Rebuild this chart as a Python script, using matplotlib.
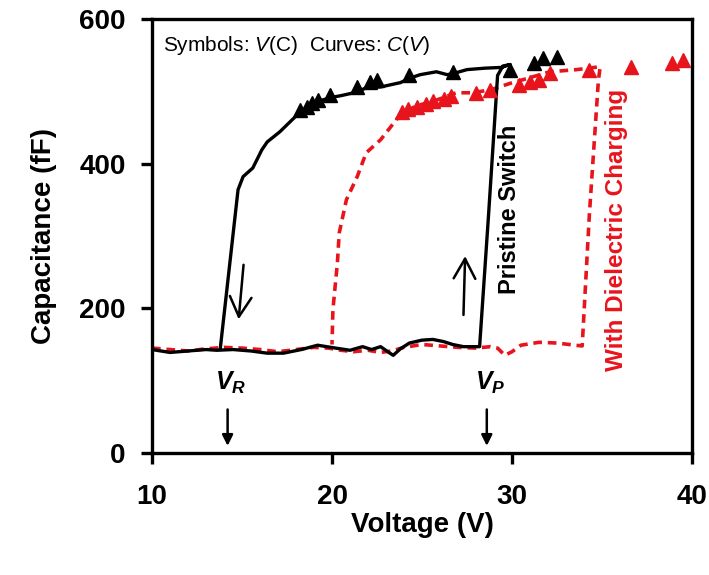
import matplotlib
matplotlib.use("Agg")
import matplotlib.pyplot as plt

plt.rcParams['font.family'] = 'Liberation Sans'
plt.rcParams['mathtext.fontset'] = 'custom'
plt.rcParams['mathtext.rm'] = 'Liberation Sans'
plt.rcParams['mathtext.it'] = 'Liberation Sans:italic'
plt.rcParams['mathtext.bf'] = 'Liberation Sans:bold'
plt.rcParams['mathtext.bfit'] = 'Liberation Sans:italic:bold'

# pristine switch, C(V) sweep (black curve)
pr_v = [10.0, 11.0, 12.0, 13.0, 13.6, 14.5, 15.5, 16.4, 17.3, 18.3, 19.2, 20.2, 21.0,
        21.7, 22.2, 22.7, 23.1, 23.4, 23.8, 24.3, 25.0, 25.6, 26.2, 26.7, 27.3, 28.2,
        28.7, 29.2, 29.5, 29.9,
        29.4, 28.5, 27.5, 26.8, 26.4, 25.8, 24.9, 24.3, 23.8, 22.7, 21.9, 21.4, 20.5,
        20.05, 18.9, 18.05, 17.1, 16.4, 16.1, 15.6, 15.06, 14.78, 13.8]
pr_c = [143, 139, 141, 143, 142, 143, 141, 138, 138, 143, 149, 145, 142,
        147, 143, 147, 140, 135, 144, 152, 156, 157, 154, 150, 147, 147,
        330, 522, 535, 537,
        533, 532, 530, 525, 523, 527, 523, 518, 512, 506, 505, 499, 494,
        492, 484, 467, 444, 430, 419, 394, 382, 364, 146]

# with dielectric charging, C(V) sweep (red dashed curve)
dc_v = [10.0, 11.0, 12.0, 13.0, 14.0, 15.0, 16.0, 17.0, 18.0, 19.0, 19.8, 20.5, 21.2,
        22.0, 22.7, 23.3, 24.0, 25.0, 26.0, 27.0, 28.0, 28.8, 29.2, 29.6, 30.0, 30.5,
        31.5, 32.5, 33.5, 33.9,
        34.3, 34.8, 34.9,
        33.6, 32.1, 30.6, 29.9, 28.8, 27.8, 26.9, 25.6, 24.7, 23.8, 22.7, 21.9, 21.4,
        20.8, 20.4, 20.3, 20.05, 20.0]
dc_c = [145, 143, 141, 144, 146, 145, 143, 140, 143, 146, 145, 142, 140,
        142, 139, 141, 146, 150, 148, 146, 145, 147, 145, 135, 140, 149,
        153, 152, 149, 148,
        330, 515, 534,
        530, 527, 516, 511, 502, 498, 498, 486, 480, 468, 433, 415, 382,
        350, 304, 263, 198, 150]

# V(C) symbols
pr_sym_v = [18.2, 18.6, 18.9, 19.2, 19.9, 21.4, 22.1, 22.5, 24.3, 26.7, 29.9, 31.2, 31.7, 32.5]
pr_sym_c = [474, 478, 484, 488, 495, 506, 513, 516, 522, 527, 530, 539, 546, 548]
dc_sym_v = [23.9, 24.2, 24.7, 25.2, 25.6, 26.2, 26.6, 28.0, 28.8, 30.4, 31.0, 31.5, 32.1,
            34.3, 36.6, 38.9, 39.5]
dc_sym_c = [471, 475, 478, 482, 486, 490, 493, 498, 502, 509, 513, 516, 525,
            530, 534, 539, 543]

v_r = 14.2
v_p = 28.6

red = '#e8141c'

fig = plt.figure(figsize=(7.09, 5.75), dpi=100)
ax = fig.add_axes([0.2144, 0.2122, 0.7616, 0.7548])

ax.plot(dc_v, dc_c, color=red, lw=2.6, dashes=(2.4, 1.6), zorder=2)
ax.plot(pr_v, pr_c, color='black', lw=2.4, zorder=3)
ax.plot(dc_sym_v, dc_sym_c, '^', color=red, ms=9.5, mec=red, zorder=4, clip_on=False)
ax.plot(pr_sym_v, pr_sym_c, '^', color='black', ms=9.5, zorder=5)

ax.set_xlim(10, 40)
ax.set_ylim(0, 600)
ax.set_xticks([10, 20, 30, 40])
ax.set_yticks([0, 200, 400, 600])
for s in ax.spines.values():
    s.set_linewidth(2.4)
ax.tick_params(direction='out', length=8, width=2.4, labelsize=20, pad=11)
for lab in ax.get_xticklabels() + ax.get_yticklabels():
    lab.set_fontweight('bold')
ax.tick_params(axis='x', pad=14)

ax.set_xlabel('Voltage (V)', fontsize=20, fontweight='bold', labelpad=2)
ax.set_ylabel('Capacitance (fF)', fontsize=20, fontweight='bold', labelpad=16)

ax.text(10.6, 564, r'Symbols: $\mathit{V}$(C)  Curves: $\mathit{C}$($\mathit{V}$)',
        fontsize=15, va='center', ha='left')

ax.text(29.85, 337, 'Pristine Switch', rotation=90, fontsize=17, fontweight='bold',
        ha='center', va='center')
ax.text(35.8, 308, 'With Dielectric Charging', rotation=90, fontsize=17.5,
        fontweight='bold', color=red, ha='center', va='center')

# V_R and V_P markers
for v, lab in [(v_r, r'$\mathbfit{V_R}$'), (v_p, r'$\mathbfit{V_P}$')]:
    ax.text(v + 0.2, 97, lab, fontsize=18, ha='center', va='center')
    ax.annotate('', xy=(v, 6), xytext=(v, 64),
                arrowprops=dict(arrowstyle='-|>', color='black', lw=1.8,
                                mutation_scale=16))

# sweep direction arrows
arrow = dict(arrowstyle='->, head_length=0.55, head_width=0.3', color='black',
             lw=1.8, mutation_scale=26)
ax.annotate('', xy=(14.8, 181), xytext=(15.1, 264), arrowprops=arrow)
ax.annotate('', xy=(27.4, 276), xytext=(27.3, 187), arrowprops=arrow)

fig.savefig('out.png', dpi=100)
